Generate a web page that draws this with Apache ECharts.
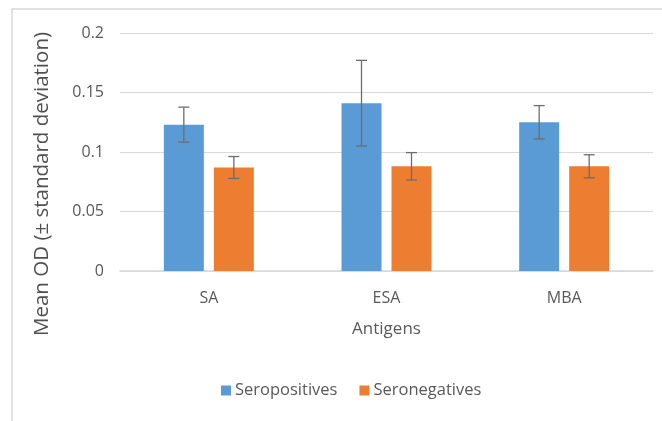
<!DOCTYPE html>
<html><head><meta charset="utf-8">
<script src="https://cdn.jsdelivr.net/npm/echarts@6/dist/echarts.min.js"></script>
<style>html,body{margin:0;padding:0;background:#fff}#c{width:662px;height:421px}</style>
</head><body><div id="c"></div>
<script>
const categories = ['SA', 'ESA', 'MBA'];
const seropositives = [0.123, 0.141, 0.125];
const seropositivesSD = [0.0147, 0.036, 0.014];
const seronegatives = [0.087, 0.088, 0.088];
const seronegativesSD = [0.0092, 0.0115, 0.0097];
const yTicks = [0, 0.05, 0.1, 0.15, 0.2];

const BAR_W = 40, BAR_GAP = 10;
const txt = '#595959';
const font = "'Open Sans', 'Noto Sans', sans-serif";

function errSeries(means, sds, side) {
  return {
    type: 'custom',
    z: 10,
    data: means.map((m, i) => [i, m - sds[i], m + sds[i]]),
    renderItem: function (params, api) {
      const i = api.value(0);
      const lo = api.coord([i, api.value(1)]);
      const hi = api.coord([i, api.value(2)]);
      const x = lo[0] + side * (BAR_W + BAR_GAP) / 2;
      const cap = 5.5;
      const st = { stroke: '#6d6d6d', lineWidth: 1.3 };
      return { type: 'group', children: [
        { type: 'line', shape: { x1: x, y1: lo[1], x2: x, y2: hi[1] }, style: st },
        { type: 'line', shape: { x1: x - cap, y1: lo[1], x2: x + cap, y2: lo[1] }, style: st },
        { type: 'line', shape: { x1: x - cap, y1: hi[1], x2: x + cap, y2: hi[1] }, style: st }
      ]};
    }
  };
}

const chart = echarts.init(document.getElementById('c'));
chart.setOption({
  animation: false,
  backgroundColor: '#fff',
  graphic: [{ type: 'rect', shape: { x: 12, y: 9, width: 700, height: 500 },
    style: { fill: 'none', stroke: '#d9d9d9', lineWidth: 1.5 } }],
  grid: { left: 120, right: 9, top: 33, bottom: 150 },
  legend: {
    bottom: 17, left: 216,
    itemWidth: 10, itemHeight: 10, itemGap: 22,
    icon: 'rect',
    textStyle: { color: txt, fontSize: 16.5, fontFamily: font, padding: [0, 0, 0, -1] },
    data: ['Seropositives', 'Seronegatives']
  },
  xAxis: {
    type: 'category', data: categories,
    name: 'Antigens', nameLocation: 'middle', nameGap: 50,
    nameTextStyle: { color: txt, fontSize: 17, fontFamily: font },
    axisLine: { lineStyle: { color: '#d9d9d9', width: 1.5 } },
    axisTick: { show: false },
    axisLabel: { color: txt, fontSize: 16, fontFamily: font, margin: 19 }
  },
  yAxis: {
    type: 'value', min: 0, max: 0.2, interval: 0.05,
    name: 'Mean OD (± standard deviation)', nameLocation: 'middle', nameGap: 67,
    nameTextStyle: { color: '#505050', fontSize: 20.5, fontFamily: font, padding: [0, 64, 0, 0] },
    axisLine: { show: false }, axisTick: { show: false },
    axisLabel: { color: txt, fontSize: 16, fontFamily: font, margin: 16,
      formatter: v => yTicks.includes(+v.toFixed(2)) ? String(+v.toFixed(2)) : '' },
    splitLine: { lineStyle: { color: '#d9d9d9', width: 1.2 } }
  },
  series: [
    { name: 'Seropositives', type: 'bar', data: seropositives, barWidth: BAR_W, barGap: '25%',
      itemStyle: { color: '#5B9BD5' } },
    { name: 'Seronegatives', type: 'bar', data: seronegatives, barWidth: BAR_W,
      itemStyle: { color: '#ED7D31' } },
    errSeries(seropositives, seropositivesSD, -1),
    errSeries(seronegatives, seronegativesSD, 1)
  ]
});
</script></body></html>
